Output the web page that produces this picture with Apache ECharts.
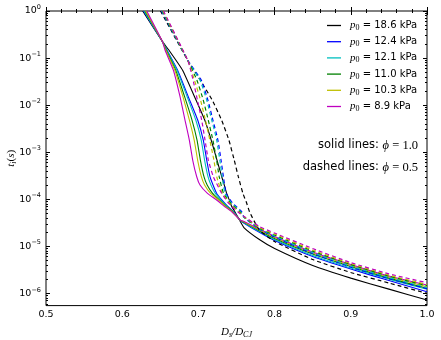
<!DOCTYPE html>
<html><head><meta charset="utf-8">
<script src="https://cdn.jsdelivr.net/npm/echarts@6/dist/echarts.min.js"></script>
<style>html,body{margin:0;padding:0;background:#fff}#c{width:441px;height:340px}</style>
</head><body><div id="c"></div>
<script>
// ---------------- data ----------------
const PRESSURES_KPA = [18.6, 12.4, 12.1, 11.0, 10.3, 8.9];
const X_TICKS = [0.5, 0.6, 0.7, 0.8, 0.9, 1.0];
const Y_TICK_EXPONENTS = [-6, -5, -4, -3, -2, -1, 0];

// solid lines (phi = 1.0): steep part, shared t levels
const T_SOLID_STEEP = [1, 0.223, 0.148, 5.57e-2, 1.51e-2, 4.82e-3, 1.81e-3, 6.81e-4, 3.01e-4, 2.00e-4, 1.33e-4, 9.62e-5, 7.16e-5, 5.35e-5, 3.61e-5];
const X_SOLID_186 = [0.6269, 0.6529, 0.6612, 0.6791, 0.6949, 0.7083, 0.7168, 0.7244, 0.7306, 0.7340, 0.7371, 0.7406, 0.7434, 0.7480, 0.7539];
const X_SOLID_124 = [0.6280, 0.6529, 0.6588, 0.6726, 0.6867, 0.6991, 0.7064, 0.7109, 0.7152, 0.7192, 0.7240, 0.7310, 0.7382, 0.7467, 0.7546];
const X_SOLID_121 = [0.6286, 0.6529, 0.6584, 0.6718, 0.6852, 0.6966, 0.7037, 0.7081, 0.7126, 0.7165, 0.7222, 0.7299, 0.7375, 0.7463, 0.7546];
const X_SOLID_110 = [0.6298, 0.6529, 0.6576, 0.6701, 0.6819, 0.6916, 0.6982, 0.7026, 0.7073, 0.7115, 0.7186, 0.7278, 0.7361, 0.7455, 0.7546];
const X_SOLID_103 = [0.6307, 0.6529, 0.6571, 0.6690, 0.6797, 0.6882, 0.6945, 0.6990, 0.7039, 0.7081, 0.7161, 0.7265, 0.7352, 0.7450, 0.7546];
const X_SOLID_89  = [0.6322, 0.6529, 0.6562, 0.6671, 0.6759, 0.6824, 0.6881, 0.6925, 0.6978, 0.7021, 0.7119, 0.7240, 0.7336, 0.7441, 0.7546];
// solid lines: tail part, shared x
const X_SOLID_TAIL = [0.76, 0.78, 0.80, 0.85, 0.90, 0.95, 1.0];
const T_SOLID_TAIL_186 = [2.466e-5, 1.391e-5, 8.96e-6, 3.90e-6, 2.11e-6, 1.23e-6, 7.20e-7];
const T_SOLID_TAIL_124 = [3.09e-5, 1.979e-5, 1.325e-5, 6.05e-6, 3.28e-6, 1.87e-6, 1.08e-6];
const T_SOLID_TAIL_121 = [3.15e-5, 2.058e-5, 1.391e-5, 6.36e-6, 3.45e-6, 2.01e-6, 1.22e-6];
const T_SOLID_TAIL_110 = [3.228e-5, 2.14e-5, 1.461e-5, 6.84e-6, 3.71e-6, 2.11e-6, 1.28e-6];
const T_SOLID_TAIL_103 = [3.277e-5, 2.215e-5, 1.535e-5, 7.19e-6, 3.90e-6, 2.22e-6, 1.38e-6];
const T_SOLID_TAIL_89  = [3.357e-5, 2.325e-5, 1.611e-5, 7.54e-6, 4.09e-6, 2.33e-6, 1.50e-6];

// dashed lines (phi = 0.5): steep part, shared t levels
const T_DASHED_STEEP = [1, 8.66e-2, 3.42e-2, 1.28e-2, 4.82e-3, 1.81e-3, 6.81e-4, 3.01e-4, 1.335e-4, 8.30e-5, 5.35e-5];
const X_DASHED_186 = [0.6503, 0.6864, 0.7024, 0.7181, 0.7304, 0.7400, 0.7470, 0.7524, 0.7584, 0.7633, 0.7672];
const X_DASHED_124 = [0.6516, 0.6867, 0.7037, 0.7125, 0.7190, 0.7256, 0.7297, 0.7328, 0.7365, 0.7448, 0.7572];
const X_DASHED_121 = [0.6522, 0.6864, 0.7021, 0.7109, 0.7175, 0.7240, 0.7281, 0.7312, 0.7349, 0.7434, 0.7559];
const X_DASHED_110 = [0.6529, 0.6864, 0.6980, 0.7064, 0.7129, 0.7190, 0.7239, 0.7273, 0.7329, 0.7421, 0.7546];
const X_DASHED_103 = [0.6535, 0.6864, 0.6948, 0.7028, 0.7092, 0.7150, 0.7203, 0.7240, 0.7312, 0.7408, 0.7533];
const X_DASHED_89  = [0.6542, 0.6864, 0.6930, 0.6987, 0.7043, 0.7087, 0.7130, 0.7196, 0.7306, 0.7395, 0.7520];
// dashed lines: tail part
const X_DASHED_TAIL_186 = [0.78, 0.80, 0.85, 0.90, 0.95, 1.0];
const T_DASHED_TAIL_186 = [2.215e-5, 1.262e-5, 5.23e-6, 2.77e-6, 1.66e-6, 1.00e-6];
const X_DASHED_TAIL = [0.76, 0.78, 0.80, 0.85, 0.90, 0.95, 1.0];
const T_DASHED_TAIL_124 = [4.084e-5, 2.325e-5, 1.572e-5, 7.01e-6, 3.62e-6, 2.06e-6, 1.26e-6];
const T_DASHED_TAIL_121 = [4.144e-5, 2.383e-5, 1.651e-5, 7.36e-6, 3.80e-6, 2.17e-6, 1.33e-6];
const T_DASHED_TAIL_110 = [4.185e-5, 2.442e-5, 1.734e-5, 7.92e-6, 4.09e-6, 2.33e-6, 1.46e-6];
const T_DASHED_TAIL_103 = [4.226e-5, 2.503e-5, 1.821e-5, 8.32e-6, 4.30e-6, 2.45e-6, 1.54e-6];
const T_DASHED_TAIL_89  = [4.29e-5, 2.629e-5, 1.912e-5, 8.96e-6, 4.51e-6, 2.60e-6, 1.68e-6];

// ---------------- build ----------------
const COLORS = ['#000000', '#0000ff', '#00bfbf', '#008000', '#bfbf00', '#bf00bf'];
const SANS = 'DejaVu Sans';
const SERIF = 'Liberation Serif';
const lg = v => Math.log10(v);
const pairs = (xs, ts) => xs.map((x, i) => [x, lg(ts[i])]);

const solidX = [X_SOLID_186, X_SOLID_124, X_SOLID_121, X_SOLID_110, X_SOLID_103, X_SOLID_89];
const solidTail = [T_SOLID_TAIL_186, T_SOLID_TAIL_124, T_SOLID_TAIL_121, T_SOLID_TAIL_110, T_SOLID_TAIL_103, T_SOLID_TAIL_89];
const dashedX = [X_DASHED_186, X_DASHED_124, X_DASHED_121, X_DASHED_110, X_DASHED_103, X_DASHED_89];
const dashedTailX = [X_DASHED_TAIL_186, X_DASHED_TAIL, X_DASHED_TAIL, X_DASHED_TAIL, X_DASHED_TAIL, X_DASHED_TAIL];
const dashedTail = [T_DASHED_TAIL_186, T_DASHED_TAIL_124, T_DASHED_TAIL_121, T_DASHED_TAIL_110, T_DASHED_TAIL_103, T_DASHED_TAIL_89];

const names = PRESSURES_KPA.map(p => 'p0 = ' + p.toFixed(1) + ' kPa');
const series = [];
PRESSURES_KPA.forEach((p, i) => {
  series.push({
    name: names[i], type: 'line', symbol: 'none', smooth: 0.15, clip: true,
    lineStyle: { color: COLORS[i], width: 1.1 }, itemStyle: { color: COLORS[i] },
    data: pairs(solidX[i].concat(X_SOLID_TAIL), T_SOLID_STEEP.concat(solidTail[i])),
    z: 3
  });
});
PRESSURES_KPA.forEach((p, i) => {
  series.push({
    name: 'dashed ' + names[i], type: 'line', symbol: 'none', smooth: 0.15, clip: true,
    lineStyle: { color: COLORS[i], width: 1.2, type: [4, 3] },
    data: pairs(dashedX[i].concat(dashedTailX[i]), T_DASHED_STEEP.concat(dashedTail[i])),
    z: 3
  });
});

const Y_MIN = -6.26, Y_MAX = 0;
const minorY = [];
for (let n = -7; n < 0; n++) for (let k = 2; k <= 9; k++) {
  const v = n + Math.log10(k);
  if (v > Y_MIN && v < Y_MAX) minorY.push(v);
}
const supText = e => (e === 0 ? '0' : '\u2212' + Math.abs(e));

const baseY = (pos, vals, len, labels) => ({
  type: 'value', min: Y_MIN, max: Y_MAX, position: pos,
  axisLine: { show: false }, splitLine: { show: false },
  axisTick: { show: true, inside: true, length: len, customValues: vals, lineStyle: { color: '#000', width: 1 } },
  axisLabel: labels ? {
    customValues: Y_TICK_EXPONENTS, margin: 5,
    formatter: v => '{b|10}{s|' + supText(Math.round(v)) + '}',
    rich: {
      b: { fontFamily: SANS, fontSize: 9.5, color: '#000', lineHeight: 12 },
      s: { fontFamily: SANS, fontSize: 6.5, color: '#000', padding: [0, 0, 7, 0] }
    }
  } : { show: false }
});
const baseX = (pos, labels) => ({
  type: 'value', min: 0.5, max: 1.0, interval: 0.1, position: pos,
  axisLine: { show: false }, splitLine: { show: false },
  axisTick: { show: true, inside: true, length: 4, lineStyle: { color: '#000', width: 1 } },
  minorTick: { show: true, splitNumber: 5, length: 2, lineStyle: { color: '#000', width: 1 } },
  axisLabel: labels ? {
    customValues: X_TICKS, margin: 4, fontFamily: SANS, fontSize: 9.5, color: '#000',
    formatter: v => v.toFixed(1)
  } : { show: false }
});

const xMain = baseX('bottom', true);
xMain.name = '{i|D}{sub|s}{i|/D}{sub|CJ}';
xMain.nameLocation = 'middle';
xMain.nameGap = 20;
xMain.nameMoveOverlap = false;
xMain.nameTextStyle = { rich: {
  i: { fontFamily: SERIF, fontStyle: 'italic', fontSize: 11, color: '#000' },
  sub: { fontFamily: SERIF, fontStyle: 'italic', fontSize: 8, color: '#000', padding: [5, 0, 0, 0] }
}};
const yMain = baseY('left', Y_TICK_EXPONENTS, 4, true);
yMain.name = '{i|t}{sub|i}{r|(}{i|s}{r|)}';
yMain.nameLocation = 'middle';
yMain.nameGap = 28;
yMain.nameMoveOverlap = false;
yMain.nameTextStyle = { rich: {
  i: { fontFamily: SERIF, fontStyle: 'italic', fontSize: 11, color: '#000' },
  r: { fontFamily: SERIF, fontSize: 11, color: '#000' },
  sub: { fontFamily: SERIF, fontStyle: 'italic', fontSize: 8, color: '#000', padding: [5, 0, 0, 0] }
}};

const mathRich = {
  a: { fontFamily: SANS, fontSize: 11.5, fill: '#000' },
  m: { fontFamily: SERIF, fontStyle: 'italic', fontSize: 12.5, fill: '#000' },
  n: { fontFamily: SERIF, fontSize: 12.5, fill: '#000' }
};

const option = {
  animation: false,
  backgroundColor: '#fff',
  grid: { left: 46, right: 14, top: 11, bottom: 34.4, show: true, borderColor: '#000', borderWidth: 1,
          backgroundColor: 'transparent', containLabel: false, outerBoundsMode: 'none' },
  xAxis: [xMain, baseX('top', false)],
  yAxis: [yMain, baseY('left', minorY, 2, false), baseY('right', Y_TICK_EXPONENTS, 4, false), baseY('right', minorY, 2, false)],
  legend: {
    data: names, orient: 'vertical', left: 322, top: 14,
    icon: 'rect', itemWidth: 14, itemHeight: 1.3, itemGap: 3.2, selectedMode: false,
    formatter: name => {
      const i = names.indexOf(name);
      return '{p|p}{sub|0}{t| = ' + PRESSURES_KPA[i].toFixed(1) + ' kPa}';
    },
    textStyle: { rich: {
      p: { fontFamily: SERIF, fontStyle: 'italic', fontSize: 11, color: '#000', padding: [0, 0, 0, 4], lineHeight: 12 },
      sub: { fontFamily: SERIF, fontSize: 8, color: '#000', padding: [5, 0, 0, 0], lineHeight: 12 },
      t: { fontFamily: SANS, fontSize: 10, color: '#000', lineHeight: 12 }
    }}
  },
  graphic: [
    { type: 'text', right: 23, top: 139, style: { text: '{a|solid lines: }{m|\u03d5}{n| = 1.0}', rich: mathRich } },
    { type: 'text', right: 23, top: 161, style: { text: '{a|dashed lines: }{m|\u03d5}{n| = 0.5}', rich: mathRich } }
  ],
  series
};
const chart = echarts.init(document.getElementById('c'), null, { renderer: 'canvas' });
chart.setOption(option);
</script></body></html>
